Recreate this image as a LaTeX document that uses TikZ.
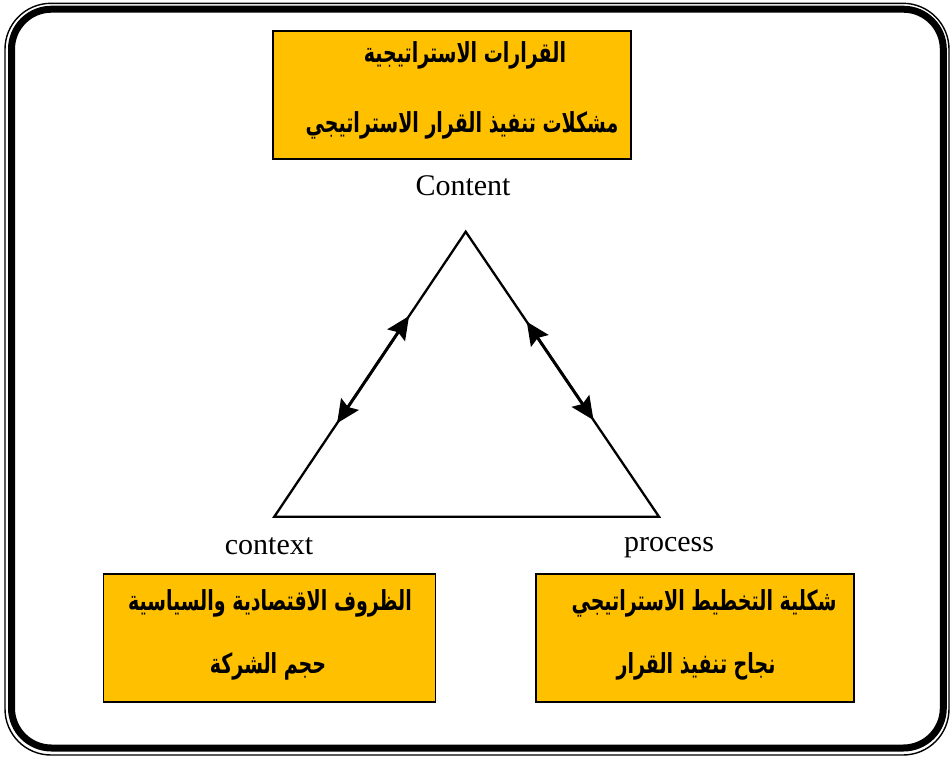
\documentclass[tikz,border=0pt]{standalone}
\usepackage{fontspec}
\setmainfont{Liberation Serif}
\newfontfamily\arabicfont[Script=Arabic]{DejaVu Sans}
\TeXXeTstate=1
\usetikzlibrary{calc,arrows.meta}
\definecolor{gold}{HTML}{FFC000}
\newcommand{\artall}[1]{\scalebox{1}[1.45]{\beginR #1\endR}}
\begin{document}
\begin{tikzpicture}[x=1pt,y=-1pt,
  box/.style={draw=black,line width=1.8pt,fill=gold,inner sep=0pt},
  artext/.style={font=\arabicfont\bfseries\fontsize{19}{23}\selectfont,anchor=base,inner sep=0pt},
  lattext/.style={font=\fontsize{30}{34}\selectfont,anchor=base,inner sep=0pt},
  triedge/.style={line width=2.3pt,line join=miter},
  dblarrow/.style={line width=3pt,{Stealth[length=23pt,width=21pt,inset=3.5pt]}-{Stealth[length=23pt,width=21pt,inset=3.5pt]}}
]
\useasboundingbox[fill=white] (0,0) rectangle (950,758);
% frame
\draw[line width=7pt,rounded corners=40pt] (11.5,9.2) rectangle (943.3,748);
\draw[line width=1.4pt,rounded corners=46pt] (5,3.3) rectangle (949,755);
% boxes
\node[box,minimum width=358pt,minimum height=128pt] (topbox) at (452,95) {};
\node[box,minimum width=332pt,minimum height=128pt] (leftbox) at (269.5,638) {};
\node[box,minimum width=318pt,minimum height=128pt] (rightbox) at (695,638) {};
% arabic texts
\node[artext] (t1) at (465,62) {\artall{القرارات الاستراتيجية}};
\node[artext] (t2) at (462,132) {\artall{مشكلات تنفيذ القرار الاستراتيجي}};
\node[artext] (l1) at (270,610) {\artall{الظروف الاقتصادية والسياسية}};
\node[artext] (l2) at (268,673) {\artall{حجم الشركة}};
\node[artext] (r1) at (704,610) {\artall{شكلية التخطيط الاستراتيجي}};
\node[artext] (r2) at (696,673) {\artall{نجاح تنفيذ القرار}};
% latin labels
\node[lattext] (content) at (463,195.7) {Content};
\node[lattext] (context) at (269,554) {context};
\node[lattext] (process) at (669,551) {process};
% triangle
\coordinate (apex) at (465.7,231.7);
\coordinate (bl) at (274.3,516.7);
\coordinate (br) at (659,516.7);
\draw[triedge] (apex) -- (bl) -- (br) -- cycle;
% arrows
\coordinate (lu) at ($(bl)!0.704!(apex)$);
\coordinate (ld) at ($(bl)!0.328!(apex)$);
\coordinate (ru) at ($(br)!0.684!(apex)$);
\coordinate (rd) at ($(br)!0.339!(apex)$);
\draw[dblarrow] (ld) -- (lu);
\draw[dblarrow] (ru) -- (rd);
\end{tikzpicture}
\end{document}
